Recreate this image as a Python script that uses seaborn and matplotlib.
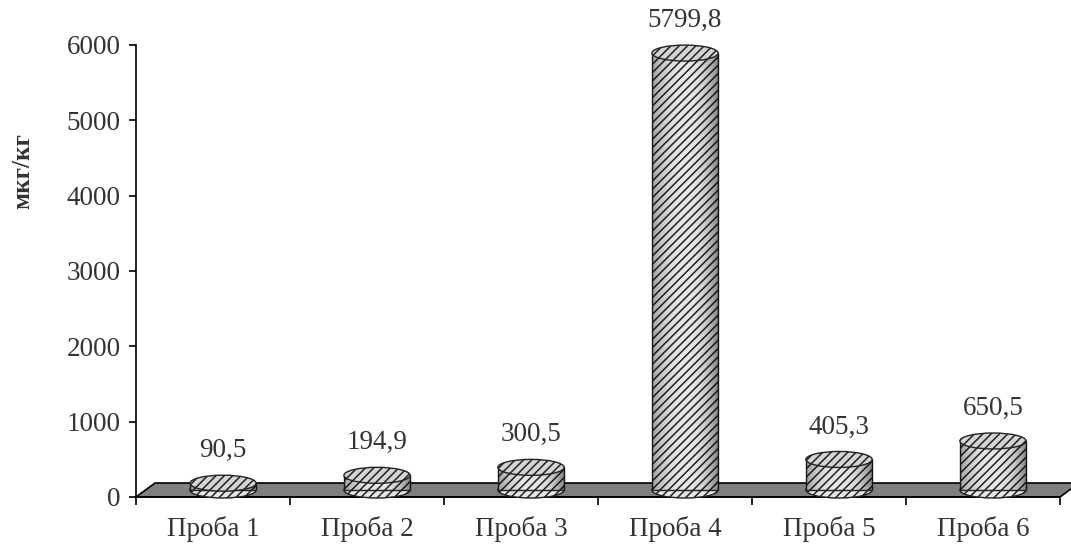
import matplotlib
matplotlib.use("Agg")
import matplotlib.pyplot as plt
import matplotlib.transforms as mtransforms
from matplotlib.patches import Ellipse, Polygon
import seaborn as sns
import pandas as pd
import numpy as np

categories = ["Проба 1", "Проба 2", "Проба 3", "Проба 4", "Проба 5", "Проба 6"]
values = [90.5, 194.9, 300.5, 5799.8, 405.3, 650.5]
value_labels = ["90,5", "194,9", "300,5", "5799,8", "405,3", "650,5"]
y_ticks = [0, 1000, 2000, 3000, 4000, 5000, 6000]
y_label = "мкг/кг"

sns.set_theme(style="white")
plt.rcParams["font.family"] = ["Liberation Serif", "DejaVu Serif"]
plt.rcParams["hatch.linewidth"] = 1.1
plt.rcParams["hatch.color"] = "#3a3a3a"

W, H = 1071, 548
fig = plt.figure(figsize=(W / 100, H / 100), dpi=100)
ax = fig.add_axes([136 / W, (H - 497) / H, 924 / W, 452 / H])

df = pd.DataFrame({"cat": categories, "val": values})
sns.barplot(data=df, x="cat", y="val", ax=ax, width=0.43, color="#e6e6e6",
            edgecolor="#222222", linewidth=1.0, hatch="////", zorder=3)
bars = list(ax.patches)

ax.set_xlim(-0.5, len(categories) - 0.5)
ax.set_ylim(0, 6000)
ax.set_yticks(y_ticks)
ax.set_yticklabels([str(t) for t in y_ticks], fontsize=19.5, color="#333333")
ax.set_xticks(range(len(categories)))
ax.set_xticklabels(categories, fontsize=19.5, color="#333333")
ax.set_xlabel("")
ax.set_ylabel(y_label, fontsize=18, fontweight="bold", color="#333333")
ax.yaxis.set_label_coords(-0.110, 0.72)

for s in ["top", "right"]:
    ax.spines[s].set_visible(False)
for s in ["left", "bottom"]:
    ax.spines[s].set_color("black")
    ax.spines[s].set_linewidth(1.2)
ax.tick_params(axis="y", which="major", direction="out", length=5, width=1.2,
               color="black", left=True, pad=6)
ax.tick_params(axis="x", which="major", length=0, pad=14)
ax.set_xticks([i - 0.5 for i in range(len(categories) + 1)], minor=True)
ax.tick_params(axis="x", which="minor", direction="out", length=6, width=1.2,
               color="black", bottom=True)

# 3D offsets (pixels)
floor_dx, floor_dy = 19, 14
bar_dx, bar_dy = 10, 7
floor_h = 6000 * floor_dy / 452

px_per_x = 924 / len(categories)
fx = floor_dx / px_per_x
floor = Polygon([(-0.5, 0), (len(categories) - 0.5, 0),
                 (len(categories) - 0.5 + fx, floor_h), (-0.5 + fx, floor_h)],
                closed=True, facecolor="#7f7f7f", edgecolor="black",
                linewidth=1.2, clip_on=False, zorder=1)
ax.add_patch(floor)

bar_trans = ax.transData + mtransforms.ScaledTranslation(bar_dx / 100, bar_dy / 100,
                                                         fig.dpi_scale_trans)
ell_h = 6000 * 16 / 452

# horizontal shading for the cylinder bodies (darker at the edges)
t = np.linspace(-1, 1, 64)
shade = np.abs(t) ** 2.5
shade[:32] = shade[:32] * 0.7
rgba = np.zeros((2, 64, 4))
rgba[..., 3] = np.tile(shade * 0.45, (2, 1))

for i, p in enumerate(bars):
    p.set_transform(bar_trans)
    p.set_clip_on(False)
    cx = p.get_x() + p.get_width() / 2
    w = p.get_width()
    top = p.get_y() + p.get_height()
    base = p.get_y()
    eb = Ellipse((cx, base), w, ell_h, facecolor="#e6e6e6", edgecolor="#222222",
                 hatch="////", linewidth=1.0, transform=bar_trans, zorder=2.9,
                 clip_on=False)
    ax.add_patch(eb)
    im = ax.imshow(rgba, aspect="auto",
                   extent=(p.get_x(), p.get_x() + w, base, top),
                   transform=bar_trans, zorder=3.2, interpolation="bilinear")
    im.set_clip_path(p)
    et = Ellipse((cx, top), w, ell_h, facecolor="#d4d4d4", edgecolor="#222222",
                 hatch="////", linewidth=1.0, transform=bar_trans, zorder=3.5,
                 clip_on=False)
    ax.add_patch(et)
    ax.annotate(value_labels[i], xy=(cx, top + ell_h / 2), xycoords=bar_trans,
                xytext=(0, 12), textcoords="offset pixels", ha="center",
                va="bottom", fontsize=19.5, color="#333333", zorder=5)

ax.set_xlim(-0.5, len(categories) - 0.5)
ax.set_ylim(0, 6000)

fig.savefig("out.png", dpi=100, facecolor="white")
